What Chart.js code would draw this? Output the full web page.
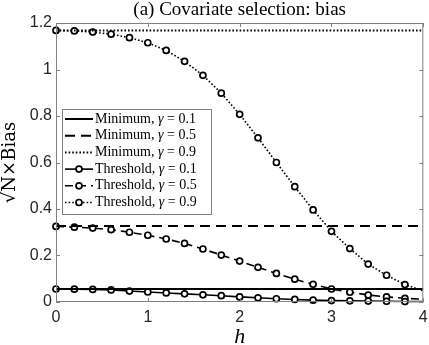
<!DOCTYPE html>
<html>
<head>
<meta charset="utf-8">
<script src="https://cdn.jsdelivr.net/npm/chart.js@4/dist/chart.umd.min.js"></script>
<style>
  html, body { margin: 0; padding: 0; background: #fff; }
  #wrap { width: 429px; height: 345px; }
</style>
</head>
<body>
<div id="wrap"><canvas id="chart"></canvas></div>
<script>
// h grid (markers every 0.2, line ends at 4)
const hVals = [0,0.2,0.4,0.6,0.8,1,1.2,1.4,1.6,1.8,2,2.2,2.4,2.6,2.8,3,3.2,3.4,3.6,3.8,4];
const thr01 = [0.056,0.055,0.054,0.052,0.047,0.043,0.039,0.035,0.031,0.027,0.022,0.018,0.014,0.011,0.008,0.006,0.005,0.004,0.003,0.002,0.002];
const thr05 = [0.325,0.322,0.318,0.311,0.300,0.287,0.271,0.252,0.228,0.202,0.176,0.149,0.123,0.098,0.076,0.056,0.042,0.030,0.022,0.016,0.012];
const thr09 = [1.168,1.166,1.161,1.152,1.137,1.115,1.082,1.035,0.975,0.898,0.807,0.706,0.600,0.496,0.396,0.304,0.230,0.163,0.115,0.075,0.048];
const minVals = [0.056, 0.327, 1.168];
const gammas = ["0.1", "0.5", "0.9"];
const xTicks = [0,1,2,3,4];
const yTicks = [0,0.2,0.4,0.6,0.8,1,1.2];
const titleText = "(a) Covariate selection: bias";

const dashes = [[], [10,6], [1.6,2]];
const thrDashes = [[], [8,5], [1.6,2]];

let toPts = arr => arr.map((v,i)=>({x:hVals[i], y:v}));
let radii = hVals.map((h,i)=> i < hVals.length-1 ? 3 : 0);

const datasets = [];
minVals.forEach((v,k)=>{
  datasets.push({
    label: "Minimum, γ = " + gammas[k],
    data: [{x:0,y:v},{x:4,y:v}],
    borderColor: "#000", borderWidth: 2, borderDash: dashes[k],
    pointRadius: 0, fill: false
  });
});
[thr01, thr05, thr09].forEach((arr,k)=>{
  datasets.push({
    label: "Threshold, γ = " + gammas[k],
    data: toPts(arr),
    borderColor: "#000", borderWidth: 1.6, borderDash: thrDashes[k],
    pointRadius: radii, pointBackgroundColor: "#fff", pointBorderColor: "#000",
    pointBorderWidth: 1.7, fill: false, clip: 6
  });
});

// frame, inward ticks, title and legend
const decor = {
  id: "decor",
  afterDraw(chart) {
    const ctx = chart.ctx, a = chart.chartArea;
    const xs = chart.scales.x, ys = chart.scales.y;
    ctx.save();
    ctx.strokeStyle = "#808080";
    ctx.lineWidth = 1;
    ctx.setLineDash([]);
    ctx.strokeRect(a.left+0.5, a.top+0.5, a.right-a.left-1, a.bottom-a.top-1);
    ctx.beginPath();
    xTicks.forEach(t=>{
      const p = Math.round(xs.getPixelForValue(t))+0.5;
      ctx.moveTo(p, a.bottom); ctx.lineTo(p, a.bottom-4);
      ctx.moveTo(p, a.top); ctx.lineTo(p, a.top+4);
    });
    yTicks.forEach(t=>{
      const p = Math.round(ys.getPixelForValue(t))+0.5;
      ctx.moveTo(a.left, p); ctx.lineTo(a.left+4, p);
      ctx.moveTo(a.right, p); ctx.lineTo(a.right-4, p);
    });
    ctx.stroke();

    // title centred over plot area
    ctx.fillStyle = "#000";
    ctx.font = "19px 'Liberation Serif'";
    ctx.textAlign = "center";
    ctx.textBaseline = "middle";
    ctx.fillText(titleText, (a.left+a.right)/2, 10);

    // legend box
    const bx = 62, by = 109, bw = 149, bh = 105, step = 16.7;
    ctx.fillStyle = "#fff";
    ctx.fillRect(bx, by, bw, bh);
    ctx.strokeStyle = "#808080";
    ctx.strokeRect(bx+0.5, by+0.5, bw, bh);
    chart.data.datasets.forEach((ds,i)=>{
      const cy = by + 10 + i*step;
      ctx.strokeStyle = "#000";
      ctx.lineWidth = ds.borderWidth;
      ctx.setLineDash(ds.borderDash);
      ctx.beginPath();
      ctx.moveTo(65, cy); ctx.lineTo(93, cy);
      ctx.stroke();
      ctx.setLineDash([]);
      if (i >= 3) {
        ctx.beginPath();
        ctx.arc(79, cy, 3, 0, Math.PI*2);
        ctx.fillStyle = "#fff"; ctx.fill();
        ctx.lineWidth = 1.7; ctx.stroke();
      }
      const parts = ds.label.split("γ");
      ctx.fillStyle = "#000";
      ctx.textAlign = "left";
      let x = 95;
      ctx.font = "14px 'Liberation Serif'";
      ctx.fillText(parts[0], x, cy); x += ctx.measureText(parts[0]).width;
      ctx.font = "italic 14px 'Liberation Serif'";
      ctx.fillText("γ", x, cy); x += ctx.measureText("γ").width;
      ctx.font = "14px 'Liberation Serif'";
      ctx.fillText(parts[1], x, cy);
    });
    ctx.restore();
  }
};

new Chart(document.getElementById("chart"), {
  type: "line",
  data: { datasets: datasets },
  options: {
    responsive: true,
    maintainAspectRatio: false,
    animation: false,
    layout: { padding: { top: 23, right: 4, left: 0, bottom: 0 } },
    plugins: { legend: { display: false }, title: { display: false }, tooltip: { enabled: false } },
    elements: { line: { tension: 0 } },
    scales: {
      x: {
        type: "linear", min: 0, max: 4,
        afterFit: s => { s.height = 43; s.paddingLeft = 0; s.paddingRight = 0; },
        afterBuildTicks: s => { s.ticks = xTicks.map(v=>({value:v})); },
        grid: { display: false, drawTicks: false }, border: { display: false },
        ticks: { font: { family: "'Liberation Sans'", size: 16 }, color: "#262626", padding: 6, maxRotation: 0 },
        title: { display: true, text: "h", font: { family: "'Liberation Serif'", style: "italic", size: 22 }, color: "#000", padding: { top: 0, bottom: -5 } }
      },
      y: {
        type: "linear", min: 0, max: 1.2,
        afterFit: s => { s.width = 56; },
        afterBuildTicks: s => { s.ticks = yTicks.map(v=>({value:v})); },
        grid: { display: false, drawTicks: false }, border: { display: false },
        ticks: { font: { family: "'Liberation Sans'", size: 16 }, color: "#262626", padding: 4,
          callback: v => String(Number(v.toFixed(1))) },
        title: { display: true, text: "√N×Bias", font: { family: "'DejaVu Serif'", size: 18 }, color: "#000", padding: { top: 0, bottom: 3 } }
      }
    }
  },
  plugins: [decor]
});
</script>
</body>
</html>
